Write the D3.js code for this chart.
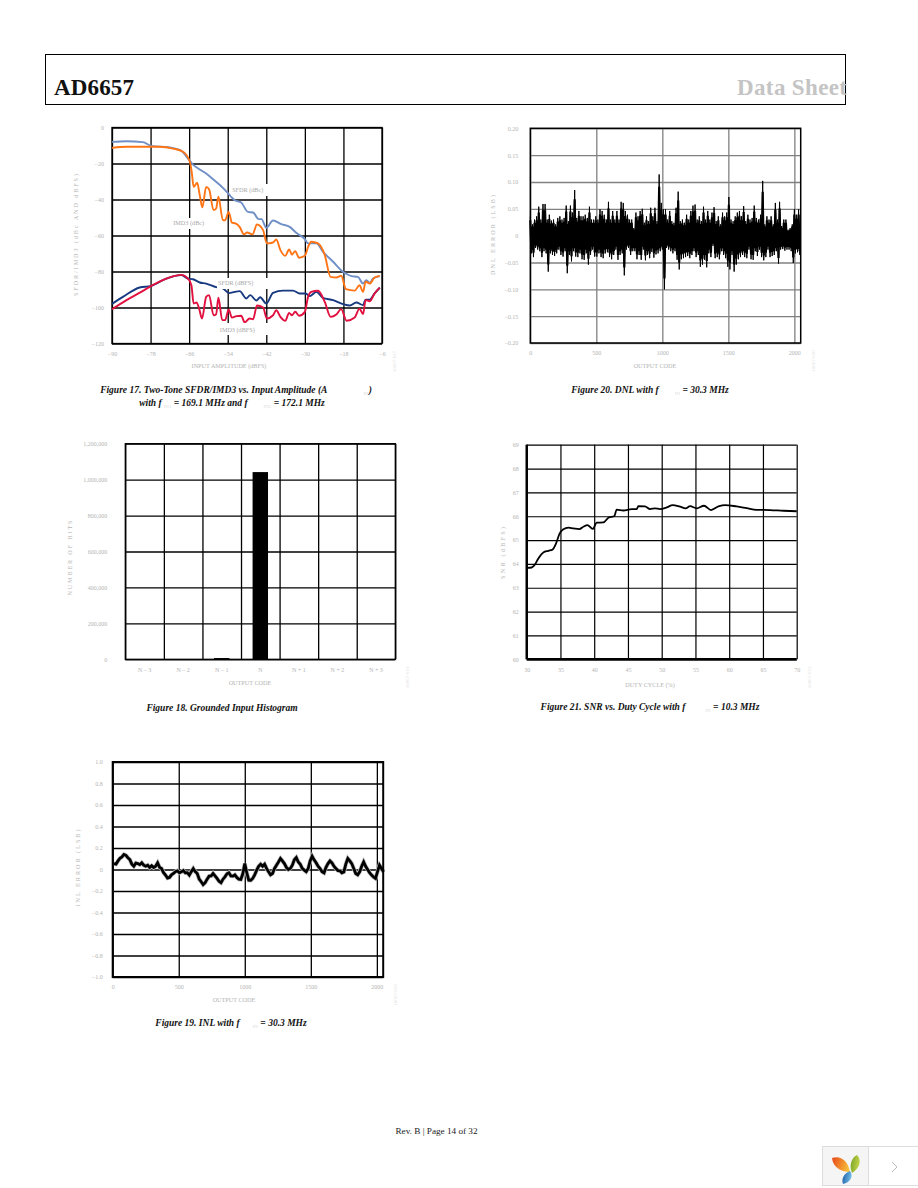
<!DOCTYPE html>
<html>
<head>
<meta charset="utf-8">
<script src="https://cdnjs.cloudflare.com/ajax/libs/d3/7.8.5/d3.min.js"></script>
<style>
    body { margin: 0; background: #fff; }
    svg { display: block; }
    text { font-family: 'Liberation Serif', serif; }
    .tick text { font-size: 6px; fill: #b4b4b4; }
    .axis_title { font-size: 6.2px; fill: #b4b4b4; text-anchor: middle; }
    .series_label { font-size: 6.2px; fill: #a8a8a8; text-anchor: middle; }
    .caption { font-size: 9.5px; font-weight: bold; font-style: italic; text-anchor: middle; fill: #111; }
    .side_id { font-size: 5px; fill: #e4e4e4; text-anchor: middle; }
</style>
</head>
<body>
<div id="page"></div>
<script>

// Figure 17, dB points
var AMP_TICKS = [-90, -78, -66, -54, -42, -30, -18, -6];
var AMP_Y_TICKS = [0, -20, -40, -60, -80, -100, -120];

var sfdr_dbc = [[-90,-8],[-85.5,-7.6],[-80.4,-8.1],[-77.8,-10.2],[-72,-11.1],[-68.4,-13],[-66.4,-17.2],[-64.8,-20.6],[-62.7,-23.3],[-60.7,-25.6],[-58,-29.6],[-55.5,-33.5],[-53.4,-37.6],[-51.8,-40.4],[-49.8,-41.7],[-47.7,-46.9],[-46.1,-47.2],[-44.4,-50.9],[-43.5,-50.9],[-42,-55.7],[-39.9,-51.7],[-37.3,-53.7],[-34.7,-55.2],[-32.7,-58.5],[-30,-62],[-29,-64.4],[-26.4,-64.4],[-24.4,-69],[-21.2,-74.6],[-18.1,-80.2],[-15.5,-82.6],[-13.5,-83],[-11.9,-86.7],[-10.9,-84.8],[-9.8,-86.3],[-8.8,-83.9],[-6.7,-82.6]];

var imd3_dbc = [[-90,-11.3],[-85.5,-10.7],[-79.3,-10.7],[-75.2,-10.7],[-71,-11.7],[-67.9,-13.5],[-65.8,-19],[-65.2,-24.6],[-64.6,-33],[-63.5,-30.7],[-62.7,-37.6],[-61.9,-44.4],[-60.7,-33],[-59.8,-34.3],[-58.4,-45.9],[-57.6,-45],[-56.9,-38.5],[-55.5,-51.5],[-54.8,-51.5],[-53.7,-46.9],[-52.7,-52.8],[-51.6,-53.3],[-50.3,-55.2],[-48.9,-59.4],[-48,-58.3],[-46.3,-59.4],[-44.9,-53.9],[-43,-57],[-41.8,-64.4],[-39.9,-63.9],[-38.9,-62.2],[-37.6,-68.1],[-36.1,-71.3],[-34.9,-67.8],[-34,-70.6],[-33,-68.7],[-31.8,-72.4],[-30,-71.3],[-29,-66.3],[-28,-63.5],[-25.9,-64.4],[-23.8,-70.9],[-22,-83],[-20.2,-83.3],[-18.7,-82.4],[-17.2,-89.8],[-14.5,-90.6],[-13,-87.6],[-11.9,-91.3],[-11.1,-85.7],[-9.8,-86.7],[-8.3,-83.3],[-6.7,-82.4]];

var sfdr_dbfs = [[-90,-98],[-86.6,-94.1],[-81.4,-88.9],[-77.8,-88],[-73.1,-83.9],[-68.4,-82],[-66.4,-83.9],[-64.8,-84.3],[-62.7,-86.1],[-60.7,-86.7],[-57.6,-88.7],[-55.5,-89.4],[-53.6,-92],[-51.8,-91.3],[-50.3,-90.9],[-48.2,-95],[-47,-93.1],[-45.1,-96.1],[-43.9,-94.3],[-42,-97.8],[-39.9,-91.9],[-36.8,-90.6],[-33.7,-90.6],[-31.6,-92.2],[-29.7,-92.2],[-28.5,-93.7],[-26.4,-91.3],[-24.4,-94.6],[-21.2,-95.9],[-18.1,-98.1],[-16,-98.9],[-14,-97.2],[-11.9,-98.7],[-11.1,-95.6],[-9.8,-95.6],[-8.3,-92.2],[-6.7,-89]];

var imd3_dbfs = [[-90,-101],[-85.5,-95.9],[-80.9,-91.3],[-77.8,-88],[-73.1,-83.9],[-68.4,-81.9],[-66.4,-83.9],[-65.3,-87.6],[-64.6,-97.8],[-63.7,-97.2],[-62.9,-100.6],[-62,-106.1],[-60.7,-94.1],[-59.8,-93.1],[-58.4,-104.3],[-57.6,-103.7],[-56.9,-94.6],[-55.7,-107],[-54.8,-107],[-53.7,-101.1],[-52.7,-105.6],[-51.3,-104.8],[-49.8,-104.6],[-48.7,-108.3],[-47.2,-106.1],[-46.1,-106.5],[-44.9,-98.9],[-43,-100],[-41.8,-106.1],[-39.9,-104.3],[-38.9,-101.5],[-37.6,-105.2],[-36.1,-107.4],[-34.9,-103],[-34,-104.3],[-33,-102.4],[-31.8,-104.6],[-30,-102.4],[-29,-94.1],[-28,-91.3],[-25.9,-90.7],[-23.8,-96.9],[-22,-105.2],[-20.2,-103.9],[-18.7,-100.9],[-17,-107.4],[-14.5,-105.6],[-13,-100.6],[-11.9,-103.7],[-11.1,-95.9],[-9.8,-96.5],[-8.3,-92.2],[-6.7,-89]];

// Figure 18
var HIST_CODES = ['N \u2013 3', 'N \u2013 2', 'N \u2013 1', 'N', 'N + 1', 'N + 2', 'N + 3'];
var HIST_COUNTS = [0, 0, 7000, 1042000, 0, 0, 0];
var HIST_Y_TICKS = [0, 200000, 400000, 600000, 800000, 1000000, 1200000];

// Figure 19, every 15 codes starting at code 10
var INL_X_TICKS = [0, 500, 1000, 1500, 2000];
var INL_Y_TICKS = [1, 0.8, 0.6, 0.4, 0.2, 0, -0.2, -0.4, -0.6, -0.8, -1];
var inl_values = [0.055,0.05,0.08,0.105,0.117,0.14,0.132,0.11,0.092,0.05,0.031,0.06,0.055,0.045,0.062,0.04,0.031,0.04,0.018,0.035,0.018,0.03,0.062,0.02,0.009,-0.03,-0.052,-0.08,-0.074,-0.05,-0.037,-0.02,-0.012,-0.03,-0.022,-0.01,-0.031,-0.03,-0.052,-0.02,0.009,-0.02,-0.037,-0.09,-0.114,-0.14,-0.123,-0.09,-0.062,-0.06,-0.037,-0.06,-0.083,-0.11,-0.123,-0.09,-0.068,-0.04,-0.031,-0.06,-0.062,-0.05,-0.074,-0.09,-0.092,-0.04,0.055,-0.03,-0.099,-0.1,-0.083,-0.05,-0.006,0.03,0.049,0.03,0.049,0.01,-0.022,-0.05,-0.037,0.01,0.04,0.07,0.102,0.08,0.055,0.02,0,0.01,0.04,0.09,0.111,0.07,0.049,0.01,-0.006,-0.02,0.009,0.08,0.123,0.09,0.062,0.03,0.009,-0.02,-0.031,0.02,0.055,0.08,0.062,0.03,0.009,-0.01,-0.012,-0.03,-0.022,0.05,0.102,0.08,0.055,0.01,-0.037,-0.05,-0.022,0.03,0.071,0.03,0,-0.03,-0.052,-0.07,-0.083,-0.02,0.04,0.01,-0.022];

// Figure 20, envelope of the noise, top and bottom of each 16 code column
var DNL_Y_TICKS = [0.2, 0.15, 0.1, 0.05, 0, -0.05, -0.1, -0.15, -0.2];
var DNL_STEP = 16;
var dnl_top = [0.036,0.021,0.03,0.036,0.054,0.03,0.059,0.059,0.03,0.039,0.028,0.03,0.021,0.033,0.036,0.03,0.033,0.056,0.027,0.056,0.043,0.085,0.033,0.046,0.036,0.036,0.039,0.033,0.054,0.03,0.03,0.036,0.03,0.049,0.046,0.039,0.03,0.063,0.03,0.046,0.03,0.046,0.03,0.063,0.061,0.046,0.039,0.03,0.03,0.014,0.043,0.036,0.046,0.05,0.024,0.036,0.027,0.052,0.036,0.052,0.027,0.114,0.061,0.049,
    0.049,0.03,0.046,0.027,0.024,0.052,0.082,0.027,0.03,0.024,0.039,0.03,0.046,0.056,0.058,0.03,0.036,0.027,0.054,0.03,0.046,0.03,0.043,0.053,0.027,0.036,0.021,0.043,0.036,0.043,0.072,0.03,0.027,0.036,0.043,0.046,0.036,0.055,0.027,0.039,0.03,0.033,0.056,0.033,0.03,0.039,0.102,0.021,0.036,0.03,0.036,0.021,0.061,0.03,0.063,0.018,0.03,0.03,0.011,0.014,0.021,0.049,0.039,0.049,0.036];
var dnl_bottom = [-0.033,-0.04,-0.023,-0.026,-0.029,-0.04,-0.029,-0.033,-0.067,-0.033,-0.036,-0.038,-0.033,-0.026,-0.036,-0.039,-0.029,-0.07,-0.036,-0.048,-0.029,-0.039,-0.04,-0.033,-0.044,-0.045,-0.033,-0.054,-0.036,-0.026,-0.039,-0.039,-0.033,-0.04,-0.042,-0.033,-0.031,-0.04,-0.044,-0.036,-0.026,-0.045,-0.036,-0.033,-0.074,-0.026,-0.023,-0.036,-0.029,-0.029,-0.044,-0.036,-0.045,-0.026,-0.046,-0.036,-0.042,-0.03,-0.041,-0.035,-0.033,-0.029,-0.026,-0.1,
    -0.023,-0.026,-0.029,-0.033,-0.029,-0.045,-0.063,-0.044,-0.042,-0.04,-0.038,-0.042,-0.036,-0.029,-0.04,-0.036,-0.058,-0.054,-0.045,-0.059,-0.033,-0.04,-0.019,-0.042,-0.04,-0.044,-0.029,-0.036,-0.042,-0.058,-0.063,-0.036,-0.067,-0.054,-0.044,-0.04,-0.036,-0.04,-0.042,-0.026,-0.044,-0.045,-0.029,-0.038,-0.026,-0.04,-0.046,-0.04,-0.026,-0.04,-0.038,-0.036,-0.029,-0.052,-0.026,-0.025,-0.028,-0.026,-0.026,-0.029,-0.051,-0.033,-0.031,-0.036,-0.054];

// Figure 21
var DUTY_TICKS = [30, 35, 40, 45, 50, 55, 60, 65, 70];
var SNR_TICKS = [60, 61, 62, 63, 64, 65, 66, 67, 68, 69];
var snr_values = [[30,63.83],[30.74,63.85],[31.23,63.98],[31.73,64.23],[32.47,64.48],[33.21,64.55],[33.85,64.61],[34.35,64.86],[34.84,65.25],[35.43,65.45],[36.17,65.52],[36.91,65.49],[37.8,65.46],[38.4,65.56],[38.99,65.63],[39.78,65.47],[40.37,65.73],[41.36,65.74],[42.1,65.94],[42.99,66.01],[43.33,66.28],[44.32,66.24],[45.56,66.3],[46.3,66.3],[46.54,66.42],[47.53,66.41],[48.27,66.3],[49.01,66.33],[49.75,66.3],[50.74,66.37],[51.63,66.47],[52.72,66.4],[53.56,66.33],[54.2,66.42],[55.19,66.33],[56.27,66.44],[57.31,66.26],[58.4,66.41],[59.38,66.47],[61.11,66.41],[62.59,66.34],[64.07,66.27],[66.05,66.26],[68.02,66.23],[70,66.21]];

var svg = d3.select('#page').append('svg').attr('width', 918).attr('height', 1188);

function minus_format(f) {
    return function(d) { return f(d).replace('-', '\u2212'); };
}

// one chart frame: grid comes from the axis ticks, labels stay gray
function draw_axes(box, xScale, yScale, xTicks, yTicks, xFormat, yFormat, gridColor, gridWidth) {

    var g = svg.append('g').attr('transform', 'translate(' + box.x + ',' + box.y + ')');

    var xAxis = d3.axisBottom(xScale).tickValues(xTicks).tickSize(-box.h).tickPadding(8).tickFormat(xFormat);
    var yAxis = d3.axisLeft(yScale).tickValues(yTicks).tickSize(-box.w).tickPadding(box.yPad).tickFormat(yFormat);

    [g.append('g').attr('transform', 'translate(0,' + box.h + ')').call(xAxis),
     g.append('g').call(yAxis)].forEach(function(a) {
        a.select('.domain').remove();
        a.selectAll('.tick line').attr('stroke', gridColor).attr('stroke-width', gridWidth);
    });

    return g;
}

function draw_border(g, box, w) {
    g.append('rect').attr('width', box.w).attr('height', box.h)
        .attr('fill', 'none').attr('stroke', '#000').attr('stroke-width', w);
}

function draw_titles(box, xTitle, xTitleX, xTitleY, yTitle, yTitleX, yTitleY, yTitleLen, sideId) {
    svg.append('text').attr('class', 'axis_title').attr('x', xTitleX).attr('y', xTitleY).text(xTitle);
    svg.append('text').attr('class', 'axis_title')
        .attr('transform', 'translate(' + yTitleX + ',' + yTitleY + ') rotate(-90)')
        .attr('textLength', yTitleLen)
        .text(yTitle);
    svg.append('text').attr('class', 'side_id')
        .attr('transform', 'translate(' + (box.x + box.w + 14) + ',' + (box.y + box.h + 18) + ') rotate(-90)')
        .text(sideId);
}

// parts go text, [subscript, gap before it], text, ...
function draw_caption(x, y, parts) {
    var t = svg.append('text').attr('class', 'caption').attr('x', x).attr('y', y);
    parts.forEach(function(p, i) {
        if (i % 2 == 0) {
            t.append('tspan').attr('dy', i > 0 ? -1.5 : 0).text(p);
        }
        else {
            t.append('tspan').attr('dx', p[1]).attr('dy', 1.5)
                .style('font-size', '5px').style('fill', '#dcdcdc')
                .style('font-style', 'normal').style('font-weight', 'normal')
                .text(p[0]);
        }
    });
}

// ---- Figure 17
function draw_figure_17() {

    var box = {x: 112, y: 127.5, w: 270, h: 216, yPad: 8};
    var xScale = d3.scaleLinear().domain([-90, -6]).range([0, box.w]);
    var yScale = d3.scaleLinear().domain([0, -120]).range([0, box.h]);

    var g = draw_axes(box, xScale, yScale, AMP_TICKS, AMP_Y_TICKS,
        minus_format(d3.format('d')), minus_format(d3.format('d')), '#000', 1.3);
    draw_border(g, box, 1.3);

    // the labels sit on white patches that cut the grid
    var patches = [[231, 184, 38, 12], [173, 218, 36, 11], [217, 278, 51, 11], [220, 323, 48, 12]];
    var labels = [['SFDR (dBc)', 247.7, 192], ['IMD3 (dBc)', 188.7, 225],
                  ['SFDR (dBFS)', 235.7, 285], ['IMD3 (dBFS)', 237.3, 332]];

    patches.forEach(function(p) {
        svg.append('rect').attr('x', p[0]).attr('y', p[1])
            .attr('width', p[2]).attr('height', p[3]).attr('fill', '#fff');
    });

    var line = d3.line()
        .x(function(d) { return xScale(d[0]); })
        .y(function(d) { return yScale(d[1]); })
        .curve(d3.curveMonotoneX);

    [[sfdr_dbc, '#6f8fc6'], [sfdr_dbfs, '#17397f'], [imd3_dbc, '#ff7414'], [imd3_dbfs, '#e2103f']].forEach(function(s) {
        g.append('path').attr('d', line(s[0])).attr('fill', 'none')
            .attr('stroke', s[1]).attr('stroke-width', 1.9);
    });

    labels.forEach(function(l) {
        svg.append('text').attr('class', 'series_label').attr('x', l[1]).attr('y', l[2]).text(l[0]);
    });

    draw_titles(box, 'INPUT AMPLITUDE (dBFS)', 229, 368, 'SFDR/IMD3 (dBc AND dBFS)', 78, 235, 122, '10067-017');
    draw_caption(236, 393, ['Figure 17. Two-Tone SFDR/IMD3 vs. Input Amplitude (A', ['IN', 36], ')']);
    draw_caption(232, 406, ['with f', ['IN1', 2], ' = 169.1 MHz and f', ['IN2', 16], ' = 172.1 MHz']);
}

// ---- Figure 18
function draw_figure_18() {

    var box = {x: 125.3, y: 443.7, w: 270, h: 215.6, yPad: 18};
    var xScale = d3.scaleBand().domain(HIST_CODES).range([0, box.w]).paddingInner(0.6).paddingOuter(0.3);
    var edgeScale = d3.scaleLinear().domain([0, HIST_CODES.length]).range([0, box.w]);
    var yScale = d3.scaleLinear().domain([0, 1200000]).range([box.h, 0]);

    var g = draw_axes(box, edgeScale, yScale, d3.range(HIST_CODES.length + 1), HIST_Y_TICKS,
        function() { return ''; }, d3.format(','), '#000', 1.3);

    var labelAxis = d3.axisBottom(xScale).tickSize(0).tickPadding(8);
    g.append('g').attr('transform', 'translate(0,' + box.h + ')').call(labelAxis)
        .select('.domain').remove();

    g.selectAll('.bar').data(HIST_COUNTS).enter().append('rect')
        .attr('class', 'bar')
        .attr('x', function(d, i) { return xScale(HIST_CODES[i]); })
        .attr('y', function(d) { return yScale(d); })
        .attr('width', xScale.bandwidth())
        .attr('height', function(d) { return box.h - yScale(d); })
        .attr('fill', '#000');

    draw_border(g, box, 1.3);
    draw_titles(box, 'OUTPUT CODE', 250, 685, 'NUMBER OF HITS', 72, 558, 75, '10067-018');
    draw_caption(222, 711, ['Figure 18. Grounded Input Histogram']);
}

// ---- Figure 19
function draw_figure_19() {

    var box = {x: 112.7, y: 762, w: 270.5, h: 215, yPad: 10};
    var xScale = d3.scaleLinear().domain([0, 2048]).range([0, box.w]);
    var yScale = d3.scaleLinear().domain([1, -1]).range([0, box.h]);

    var g = draw_axes(box, xScale, yScale, INL_X_TICKS, INL_Y_TICKS,
        d3.format('d'), function(d) { return d == 0 ? '0' : d3.format('.1f')(d).replace('-', '\u2212'); }, '#000', 1.3);

    var line = d3.line()
        .x(function(d, i) { return xScale(10 + i * 15); })
        .y(function(d) { return yScale(d); });

    g.append('path').attr('d', line(inl_values)).attr('fill', 'none')
        .attr('stroke', '#bbb').attr('stroke-width', 4.2);
    g.append('path').attr('d', line(inl_values)).attr('fill', 'none')
        .attr('stroke', '#000').attr('stroke-width', 2.8);

    draw_border(g, box, 2);
    draw_titles(box, 'OUTPUT CODE', 234, 1002, 'INL ERROR (LSB)', 80, 868, 77, '10067-019');
    draw_caption(231, 1026, ['Figure 19. INL with f', ['IN', 13], ' = 30.3 MHz']);
}

// ---- Figure 20
function draw_figure_20() {

    var box = {x: 530.3, y: 128.3, w: 270.4, h: 214.7, yPad: 12};
    var xScale = d3.scaleLinear().domain([0, 2048]).range([0, box.w]);
    var yScale = d3.scaleLinear().domain([0.2, -0.2]).range([0, box.h]);

    var g = draw_axes(box, xScale, yScale, INL_X_TICKS, DNL_Y_TICKS,
        d3.format('d'), function(d) { return d == 0 ? '0' : d3.format('.2f')(d).replace('-', '\u2212'); }, '#808080', 1.3);

    // top and bottom taken in turn so the noise fills in solid
    var zigzag = [];
    var core = [];
    d3.zip(dnl_top, dnl_bottom).forEach(function(p, i) {
        if ((i + 0.5) * DNL_STEP > 2048) {
            return;
        }
        zigzag.push([i * DNL_STEP, p[0]]);
        zigzag.push([(i + 0.5) * DNL_STEP, p[1]]);
        // solid body of the band, same columns held lower
        core.push([i * DNL_STEP, p[0] * 0.8]);
        core.push([(i + 0.5) * DNL_STEP, p[1] * 0.8]);
    });

    var line = d3.line()
        .x(function(d) { return xScale(d[0]); })
        .y(function(d) { return yScale(d[1]); });

    g.append('path').attr('d', line(zigzag)).attr('fill', 'none')
        .attr('stroke', '#000').attr('stroke-width', 1);
    g.append('path').attr('d', line(core)).attr('fill', 'none')
        .attr('stroke', '#000').attr('stroke-width', 2.2);

    draw_border(g, box, 1.5);
    draw_titles(box, 'OUTPUT CODE', 655, 368, 'DNL ERROR (LSB)', 495, 235, 80, '10067-020');
    draw_caption(650, 393, ['Figure 20. DNL with f', ['IN', 16], ' = 30.3 MHz']);
}

// ---- Figure 21
function draw_figure_21() {

    var box = {x: 526.7, y: 444.7, w: 270, h: 214.6, yPad: 8};
    var xScale = d3.scaleLinear().domain([30, 70]).range([0, box.w]);
    var yScale = d3.scaleLinear().domain([60, 69]).range([box.h, 0]);

    var g = draw_axes(box, xScale, yScale, DUTY_TICKS, SNR_TICKS,
        d3.format('d'), d3.format('d'), '#000', 1.2);

    var line = d3.line()
        .x(function(d) { return xScale(d[0]); })
        .y(function(d) { return yScale(d[1]); })
        .curve(d3.curveMonotoneX);

    g.append('path').attr('d', line(snr_values)).attr('fill', 'none')
        .attr('stroke', '#000').attr('stroke-width', 1.8);

    g.append('line').attr('x1', 0).attr('x2', 0).attr('y1', 0).attr('y2', box.h)
        .attr('stroke', '#000').attr('stroke-width', 2.4);
    g.append('line').attr('x1', 0).attr('x2', box.w).attr('y1', box.h).attr('y2', box.h)
        .attr('stroke', '#000').attr('stroke-width', 2.4);

    draw_titles(box, 'DUTY CYCLE (%)', 650, 687, 'SNR (dBFS)', 505, 553, 52, '10067-021');
    draw_caption(650, 710, ['Figure 21. SNR vs. Duty Cycle with f', ['IN', 20], ' = 10.3 MHz']);
}

function draw_page() {

    svg.append('rect').attr('x', 45.5).attr('y', 54.5).attr('width', 800).attr('height', 50)
        .attr('fill', 'none').attr('stroke', '#000').attr('stroke-width', 1);

    svg.append('text').attr('x', 54).attr('y', 95).attr('textLength', 80)
        .style('font-size', '23px').style('font-weight', 'bold').attr('fill', '#111').text('AD6657');
    svg.append('text').attr('x', 737).attr('y', 95).attr('textLength', 110)
        .style('font-size', '23px').style('font-weight', 'bold').attr('fill', '#c4c4c4').text('Data Sheet');

    svg.append('text').attr('x', 436.5).attr('y', 1134).attr('text-anchor', 'middle')
        .style('font-size', '9.2px').attr('fill', '#222').text('Rev. B | Page 14 of 32');

    // viewer badge in the bottom corner
    svg.append('rect').attr('x', 822.5).attr('y', 1146.5).attr('width', 46).attr('height', 39)
        .attr('fill', '#f5f5f5').attr('stroke', '#ddd');
    svg.append('rect').attr('x', 868.5).attr('y', 1146.5).attr('width', 50).attr('height', 39)
        .attr('fill', '#fff').attr('stroke', '#ddd');

    var defs = svg.append('defs');
    [['leaf_o', '#f9c23c', '#e8501a'], ['leaf_g', '#c6d84a', '#7fa52a'], ['leaf_b', '#79c3ea', '#1c5fa8']].forEach(function(c) {
        var lg = defs.append('linearGradient').attr('id', c[0]).attr('x1', 1).attr('y1', 0.6).attr('x2', 0).attr('y2', 0.3);
        lg.append('stop').attr('offset', 0).attr('stop-color', c[1]);
        lg.append('stop').attr('offset', 1).attr('stop-color', c[2]);
    });
    svg.append('path').attr('fill', 'url(#leaf_o)').attr('d', 'M832 1158 C840 1155 848 1160 850 1172 C842 1172 833 1168 832 1158Z');
    svg.append('path').attr('fill', 'url(#leaf_g)').attr('d', 'M857 1155 C862 1160 860 1168 852 1173 C849 1166 851 1158 857 1155Z');
    svg.append('path').attr('fill', 'url(#leaf_b)').attr('d', 'M850 1171 C854 1176 850 1183 843 1184 C841 1179 844 1173 850 1171Z');

    svg.append('path').attr('d', 'M892 1162 L897 1167 L892 1172').attr('fill', 'none')
        .attr('stroke', '#aaa').attr('stroke-width', 0.8);
}

draw_page();
draw_figure_17();
draw_figure_18();
draw_figure_19();
draw_figure_20();
draw_figure_21();

</script>
</body>
</html>
